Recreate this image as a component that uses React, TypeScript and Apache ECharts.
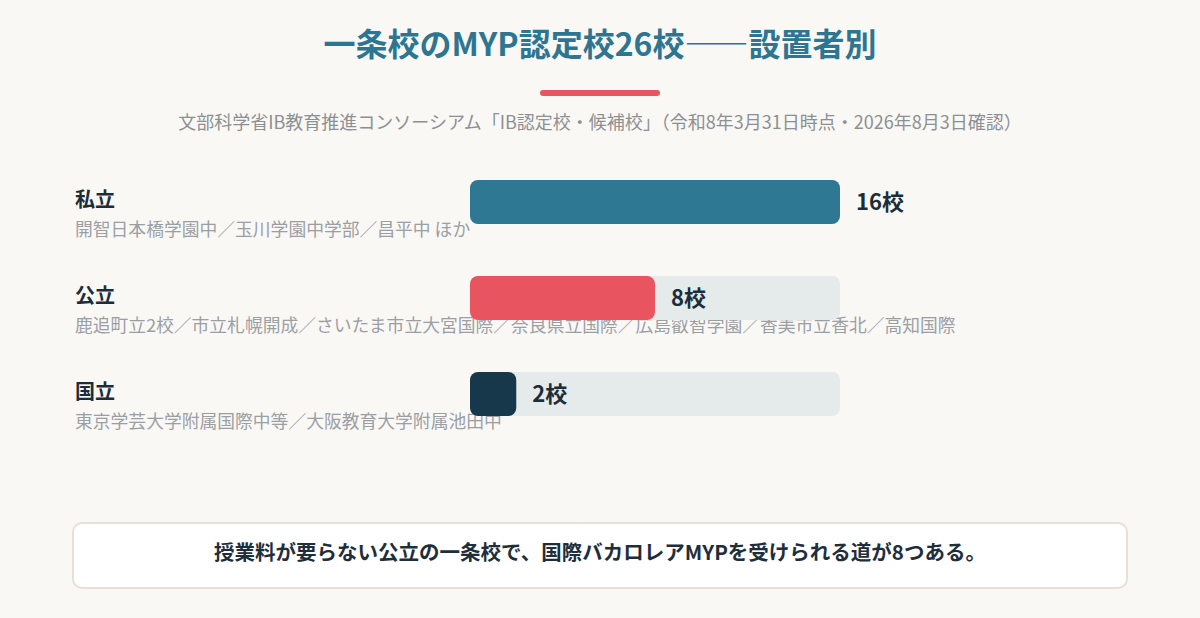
import React, { useEffect, useRef } from 'react';
import * as echarts from 'echarts';

const categories = ['私立', '公立', '国立'];
const schoolCounts = [16, 8, 2];
const schoolExamples = [
  '開智日本橋学園中／玉川学園中学部／昌平中 ほか',
  '鹿追町立2校／市立札幌開成／さいたま市立大宮国際／奈良県立国際／広島叡智学園／香美市立香北／高知国際',
  '東京学芸大学附属国際中等／大阪教育大学附属池田中',
];
const axisMax = 16;

const titleText = '一条校のMYP認定校26校――設置者別';
const subtitleText =
  '文部科学省IB教育推進コンソーシアム「IB認定校・候補校」（令和8年3月31日時点・2026年8月3日確認）';
const noteText = '授業料が要らない公立の一条校で、国際バカロレアMYPを受けられる道が8つある。';

const barColors = ['#2e7893', '#e85561', '#17374a'];
const FONT = '"Noto Sans CJK JP", "Noto Sans", sans-serif';

const App: React.FC = () => {
  const chartRef = useRef<HTMLDivElement>(null);

  useEffect(() => {
    document.body.style.margin = '0';
    if (!chartRef.current) return;
    const chart = echarts.init(chartRef.current, undefined, { renderer: 'svg' });

    const option: echarts.EChartsOption = {
      animation: false,
      backgroundColor: '#faf8f5',
      textStyle: { fontFamily: FONT },
      grid: { left: 470, right: 360, top: 154, height: 288 },
      xAxis: { type: 'value', min: 0, max: axisMax, show: false },
      yAxis: {
        type: 'category',
        inverse: true,
        data: categories,
        axisLine: { show: false },
        axisTick: { show: false },
        splitLine: { show: false },
        axisLabel: {
          align: 'left',
          margin: 395,
          padding: [13, 0, 0, 0],
          formatter: (value: string) => {
            const i = categories.indexOf(value);
            return `{name|${value}}\n{sub|${schoolExamples[i]}}`;
          },
          rich: {
            name: {
              fontFamily: FONT,
              fontSize: 20,
              fontWeight: 'bold',
              color: '#1c2d3a',
              lineHeight: 39,
            },
            sub: {
              fontFamily: FONT,
              fontSize: 17.8,
              color: '#9a9fa4',
              lineHeight: 20,
            },
          },
        },
      },
      series: [
        {
          type: 'bar',
          barWidth: 44,
          showBackground: true,
          backgroundStyle: { color: '#e5eaeb', borderRadius: 8 },
          data: schoolCounts.map((v, i) => ({
            value: v,
            itemStyle: { color: barColors[i], borderRadius: 8 },
          })),
          label: {
            show: true,
            position: 'right',
            distance: 16,
            offset: [0, -2],
            formatter: '{c}校',
            fontFamily: FONT,
            fontSize: 22,
            lineHeight: 22,
            fontWeight: 'bold',
            color: '#1c2d3a',
          },
        },
      ],
      graphic: [
        {
          type: 'text',
          x: 600,
          y: 42,
          style: {
            text: titleText,
            fontFamily: FONT,
            fontSize: 32,
            fontWeight: 'bold',
            fill: '#2d7591',
            textAlign: 'center',
            textVerticalAlign: 'middle',
          },
        },
        {
          type: 'rect',
          shape: { x: 540, y: 90, width: 120, height: 6, r: 3 },
          style: { fill: '#e85561' },
        },
        {
          type: 'text',
          x: 600,
          y: 121,
          style: {
            text: subtitleText,
            fontFamily: FONT,
            fontSize: 18,
            fill: '#8c9093',
            textAlign: 'center',
            textVerticalAlign: 'middle',
          },
        },
        {
          type: 'rect',
          shape: { x: 73, y: 523, width: 1054, height: 65, r: 9 },
          style: { fill: '#ffffff', stroke: '#e6e1d8', lineWidth: 2 },
        },
        {
          type: 'text',
          x: 600,
          y: 551,
          style: {
            text: noteText,
            fontFamily: FONT,
            fontSize: 20.5,
            fontWeight: 'bold',
            fill: '#1f2e3b',
            textAlign: 'center',
            textVerticalAlign: 'middle',
          },
        },
      ],
    };

    chart.setOption(option as any);
    return () => {
      chart.dispose();
    };
  }, []);

  return (
    <div
      ref={chartRef}
      style={{ position: 'absolute', left: 0, top: 0, width: 1200, height: 618 }}
    />
  );
};

export default App;
